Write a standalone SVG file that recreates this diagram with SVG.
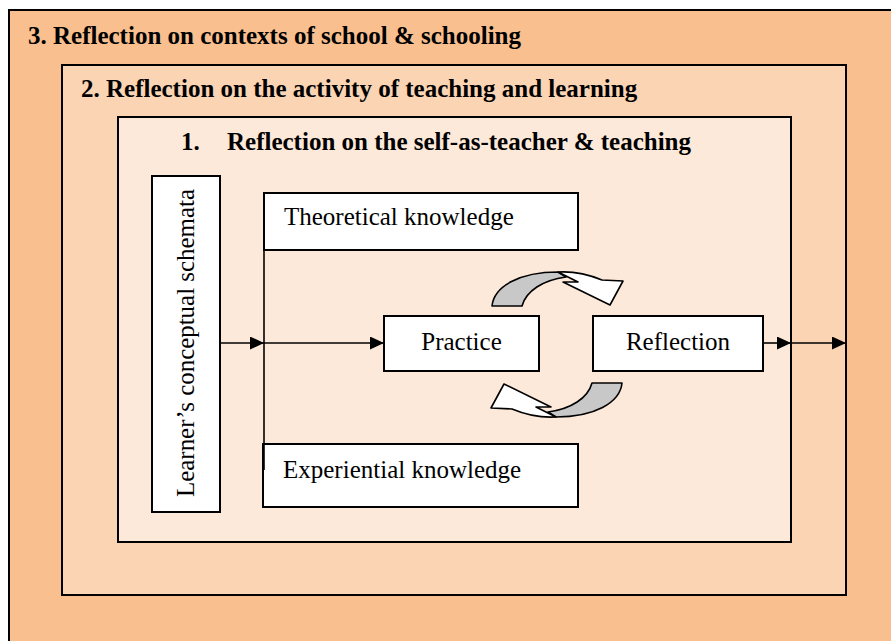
<svg xmlns="http://www.w3.org/2000/svg" width="891" height="641" viewBox="0 0 891 641">
<defs>
<style>
.box{stroke:#000;stroke-width:2}
.node{fill:#fff;stroke:#000;stroke-width:2}
.h{font-family:"Liberation Serif","Times New Roman",serif;font-weight:bold;font-size:25px;fill:#000}
.t{font-family:"Liberation Serif","Times New Roman",serif;font-size:25px;fill:#000}
.ln{stroke:#000;stroke-width:1.6;fill:none}
.ca{stroke:#000;stroke-width:1.6;stroke-linejoin:round}
</style>
<marker id="ah" markerUnits="userSpaceOnUse" markerWidth="15" markerHeight="14" refX="14" refY="6.5" orient="auto">
<path d="M0,0 L14,6.5 L0,13 Z" fill="#000"/>
</marker>
</defs>
<rect width="891" height="641" fill="#fff"/>
<g id="level3">
<rect class="box" x="9" y="10" width="890" height="640" fill="#FABF8F"/>
<text class="h" x="28" y="44">3. Reflection on contexts of school &amp; schooling</text>
</g>
<g id="level2">
<rect class="box" x="62" y="65" width="784" height="530" fill="#FBD4B4"/>
<text class="h" x="81" y="97">2. Reflection on the activity of teaching and learning</text>
</g>
<g id="level1">
<rect class="box" x="118" y="117" width="673" height="425" fill="#FDE9D9"/>
<text class="h" x="181" y="150">1.</text>
<text class="h" x="227" y="150">Reflection on the self-as-teacher &amp; teaching</text>
</g>
<g id="connectors">
<path class="ln" d="M264,250 V470"/>
<path class="ln" d="M220,343 H264" marker-end="url(#ah)"/>
<path class="ln" d="M264,343 H384" marker-end="url(#ah)"/>
<path class="ln" d="M763,343 H791" marker-end="url(#ah)"/>
<path class="ln" d="M791,343 H846" marker-end="url(#ah)"/>
</g>
<g id="learner">
<rect class="node" x="152" y="176" width="68" height="336"/>
<text class="t" transform="translate(194,497) rotate(-90)" textLength="308" lengthAdjust="spacing">Learner’s conceptual schemata</text>
</g>
<g id="theoretical">
<rect class="node" x="264" y="193" width="314" height="57"/>
<text class="t" x="284" y="225">Theoretical knowledge</text>
</g>
<g id="experiential">
<rect x="264" y="445" width="313" height="61" fill="#fff"/>
<path class="ln" d="M264,445 V470"/>
<rect x="263" y="444" width="315" height="63" fill="none" stroke="#000" stroke-width="2"/>
<text class="t" x="283" y="478">Experiential knowledge</text>
</g>
<g id="practice">
<rect class="node" x="384" y="316" width="155" height="55"/>
<text class="t" x="461.5" y="350" text-anchor="middle">Practice</text>
</g>
<g id="reflection">
<rect class="node" x="593" y="316" width="170" height="55"/>
<text class="t" x="678" y="350" text-anchor="middle">Reflection</text>
</g>
<g id="cycle-top">
<path class="ca" fill="#C8C8C8" d="M492,306 C494,286 520,272 558,272 L566,277 C543,280 526,291 522,306 Z"/>
<path class="ca" fill="#fff" d="M558,272 C575,271 590,275 602,280 L623,281 L610,305 L563,282 L578,282 Z"/>
</g>
<g id="cycle-bottom" transform="rotate(180 557 344.5)">
<path class="ca" fill="#C8C8C8" d="M492,306 C494,286 520,272 558,272 L566,277 C543,280 526,291 522,306 Z"/>
<path class="ca" fill="#fff" d="M558,272 C575,271 590,275 602,280 L623,281 L610,305 L563,282 L578,282 Z"/>
</g>
</svg>
